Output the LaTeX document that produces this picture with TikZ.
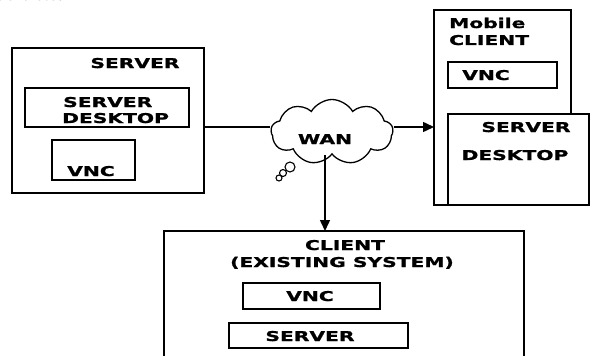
\documentclass[tikz,border=0pt]{standalone}
\usepackage{fontspec}
\setmainfont{DejaVu Sans}
\newfontfamily\lab[FakeStretch=1.5,FakeBold=1.2]{DejaVu Sans}
\newfontfamily\capfont[FakeStretch=1.3]{Liberation Serif}
\usetikzlibrary{shapes.symbols,arrows.meta}
\begin{document}
\begin{tikzpicture}[x=1pt,y=-1pt,
  box/.style={draw, line width=1.6pt, inner sep=0pt, outer sep=0pt},
  txt/.style={font=\lab\bfseries\fontsize{13.5}{16}\selectfont, inner sep=0pt, anchor=base},
  conn/.style={line width=1.5pt},
  arr/.style={conn,-{Triangle[length=11pt,width=10pt]}},
  bub/.style={circle, draw, line width=1.1pt, inner sep=0pt}]
\clip (0,0) rectangle (598,356);
\fill[white] (0,0) rectangle (598,356);
% cut-off caption at the top
\node[font=\capfont\itshape\fontsize{15}{18}\selectfont, inner sep=0pt, anchor=base west] (cap) at (-3,1) {able etc.};
% server side
\node[box, minimum width=192pt, minimum height=145pt] (server) at (108,120.5) {};
\node[box, minimum width=164pt, minimum height=39pt] (sdesk) at (107,107.5) {};
\node[box, minimum width=83pt, minimum height=40pt] (svnc) at (93.5,160) {};
\node[txt] (tserver) at (135,68) {SERVER};
\node[txt, anchor=base west] (tsd1) at (63,107) {SERVER};
\node[txt, anchor=base west] (tsd2) at (62,123) {DESKTOP};
\node[txt] (tsvnc) at (91,176) {VNC};
% mobile client
\node[box, minimum width=137pt, minimum height=195pt] (mobile) at (502.5,107.5) {};
\node[box, minimum width=109pt, minimum height=26pt] (mvnc) at (502.5,75) {};
\node[box, fill=white, minimum width=141pt, minimum height=91pt] (mdesk) at (518.5,159.5) {};
\node[txt, anchor=base west] (tmob1) at (449,28) {Mobile};
\node[txt, anchor=base west] (tmob2) at (449,45) {CLIENT};
\node[txt] (tmvnc) at (486,80) {VNC};
\node[txt] (tmd1) at (526,132) {SERVER};
\node[txt] (tmd2) at (515,160) {DESKTOP};
% client (existing system)
\node[box, minimum width=360pt, minimum height=139pt] (client) at (344,300.5) {};
\node[box, minimum width=137pt, minimum height=26pt] (cvnc) at (311.5,296) {};
\node[box, minimum width=179pt, minimum height=25pt] (cserv) at (318.5,335.5) {};
\node[txt] (tcl1) at (345,250) {CLIENT};
\node[txt] (tcl2) at (342,267) {(EXISTING SYSTEM)};
\node[txt] (tcvnc) at (310,301) {VNC};
\node[txt] (tcserv) at (310,341) {SERVER};
% WAN cloud
\node[cloud, draw, line width=1.3pt, cloud puffs=9, cloud puff arc=120, aspect=1.9,
      minimum width=122pt, minimum height=65pt, inner sep=0pt] (wan) at (332,132) {};
\node[txt] (twan) at (325,144) {WAN};
\node[bub, minimum size=10pt] (b1) at (290,167) {};
\node[bub, minimum size=7pt] (b2) at (283,173) {};
\node[bub, minimum size=6pt] (b3) at (279,178) {};
% connectors
\coordinate (lvl) at (0,127);
\coordinate (dn) at (325,0);
\draw[conn] (server.east |- lvl) -- (wan.west |- lvl);
\draw[arr] (wan.east |- lvl) -- (mobile.west |- lvl);
\draw[arr] (wan.south -| dn) -- (client.north -| dn);
\end{tikzpicture}
\end{document}
